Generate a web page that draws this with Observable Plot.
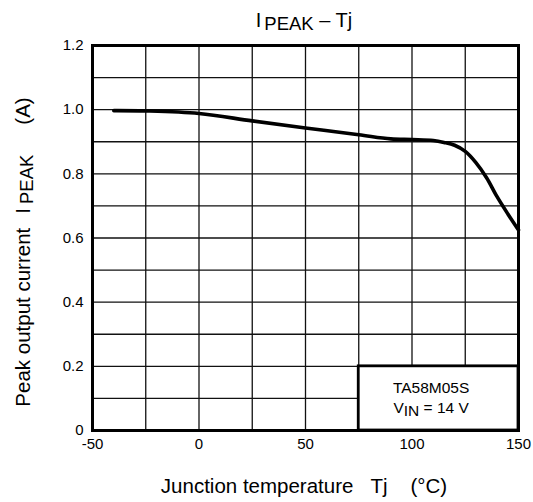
<!DOCTYPE html>
<html><head><meta charset="utf-8">
<script src="https://cdn.jsdelivr.net/npm/d3@7"></script>
<script src="https://cdn.jsdelivr.net/npm/@observablehq/plot@0.6"></script>
<style>body{margin:0;background:#fff}</style>
</head><body><div id="chart"></div>
<script>
const temps = [-40, -25, 0, 25, 50, 75, 90, 100, 110, 115, 120, 125, 130, 135, 140, 145, 150];
const currents = [0.997, 0.996, 0.988, 0.965, 0.943, 0.922, 0.909, 0.907, 0.904, 0.898, 0.889, 0.870, 0.835, 0.788, 0.728, 0.675, 0.625];
const xTicks = [-50, 0, 50, 100, 150];
const yTicks = [0, 0.2, 0.4, 0.6, 0.8, 1.0, 1.2];
const xGrid = [-25, 0, 25, 50, 75, 100, 125];
const yGrid = [0.1, 0.2, 0.3, 0.4, 0.5, 0.6, 0.7, 0.8, 0.9, 1.0, 1.1];
const legendX = [75, 150];
const legendY = [0, 0.2];
const legendDevice = "TA58M05S";
const legendCondition = ["V", "IN", " = 14 V"];
const titleParts = ["I", "PEAK", " – Tj"];
const xLabelParts = ["Junction temperature", "Tj", "(°C)"];
const yLabelParts = ["Peak output current", "I", "PEAK", "(A)"];

const data = temps.map((t, i) => ({t, c: currents[i]}));
const box = [{x1: legendX[0], x2: legendX[1], y1: legendY[0], y2: legendY[1]}];
const FONT = "'Liberation Sans', Arial, sans-serif";

const chart = Plot.plot({
  width: 533, height: 502,
  marginLeft: 92, marginRight: 15, marginTop: 45, marginBottom: 72,
  style: {fontFamily: FONT, fontSize: "15px", background: "#fff", color: "#000"},
  x: {domain: [-50, 150], ticks: xTicks, tickSize: 0, tickPadding: 8, label: null,
      tickFormat: d => String(d)},
  y: {domain: [0, 1.2], ticks: yTicks, tickSize: 0, tickPadding: 9, label: null,
      tickFormat: d => d === 0 ? "0" : d.toFixed(1)},
  marks: [
    Plot.ruleX(xGrid, {stroke: "#111", strokeWidth: 1.3}),
    Plot.ruleY(yGrid, {stroke: "#111", strokeWidth: 1.3}),
    Plot.rect(box, {x1: "x1", x2: "x2", y1: "y1", y2: "y2", fill: "white", stroke: "black", strokeWidth: 2.8}),
    Plot.line(data, {x: "t", y: "c", stroke: "black", strokeWidth: 3.6, curve: "catmull-rom"}),
    Plot.frame({stroke: "black", strokeWidth: 3})
  ]
});
document.getElementById("chart").appendChild(chart);

const svg = d3.select(chart);
const sx = chart.scale("x"), sy = chart.scale("y");
const cx = (sx.apply(-50) + sx.apply(150)) / 2;

// Title
const title = svg.append("text").attr("x", cx - 1).attr("y", 27)
  .attr("text-anchor", "middle").attr("font-family", FONT).attr("font-size", 20).attr("fill", "#000");
title.append("tspan").text(titleParts[0]);
title.append("tspan").attr("dx", 3).attr("dy", 3).attr("font-size", 18.5).text(titleParts[1]);
title.append("tspan").attr("dy", -3).text(titleParts[2]);

// X label
const xl = svg.append("text").attr("x", cx - 1).attr("y", 493)
  .attr("text-anchor", "middle").attr("font-family", FONT).attr("font-size", 20.5).attr("fill", "#000");
xl.append("tspan").text(xLabelParts[0]);
xl.append("tspan").attr("dx", 17).text(xLabelParts[1]);
xl.append("tspan").attr("dx", 23).text(xLabelParts[2]);

// Y label
const yc = 252;
const yl = svg.append("text").attr("transform", `translate(30,${yc}) rotate(-90)`)
  .attr("text-anchor", "middle").attr("font-family", FONT).attr("font-size", 20.5).attr("fill", "#000");
yl.append("tspan").text(yLabelParts[0]);
yl.append("tspan").attr("dx", 14).text(yLabelParts[1]);
yl.append("tspan").attr("dx", 4).attr("dy", 3).attr("font-size", 18.5).text(yLabelParts[2]);
yl.append("tspan").attr("dx", 30).attr("dy", -3).text(yLabelParts[3]);

// Legend text
const lx = (sx.apply(legendX[0]) + sx.apply(legendX[1])) / 2 - 7;
svg.append("text").attr("x", lx).attr("y", sy.apply(legendY[1]) + 27)
  .attr("text-anchor", "middle").attr("font-family", FONT).attr("font-size", 15.5).attr("fill", "#000")
  .text(legendDevice);
const l2 = svg.append("text").attr("x", lx).attr("y", sy.apply(legendY[1]) + 47)
  .attr("text-anchor", "middle").attr("font-family", FONT).attr("font-size", 15.5).attr("fill", "#000");
l2.append("tspan").text(legendCondition[0]);
l2.append("tspan").attr("dy", 3).text(legendCondition[1]);
l2.append("tspan").attr("dy", -3).text(legendCondition[2]);
</script>
</body></html>
